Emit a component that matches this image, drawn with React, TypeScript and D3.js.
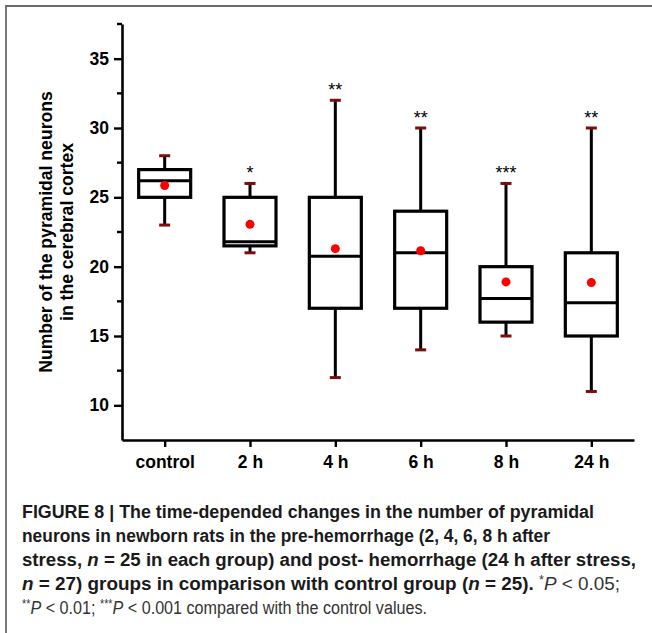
import React, { useEffect, useRef } from 'react';
import * as d3 from 'd3';

// data
const groups = ['control', '2 h', '4 h', '6 h', '8 h', '24 h'];
const whiskerLow = [23, 21, 12, 14, 15, 11];
const q1 = [25, 21.5, 17, 17, 16, 15];
const medians = [26.2, 21.8, 20.75, 21, 17.7, 17.4];
const q3 = [27, 25, 25, 24, 20, 21];
const whiskerHigh = [28, 26, 32, 30, 26, 30];
const means = [25.85, 23.05, 21.3, 21.15, 18.9, 18.85];
const stars = ['', '*', '**', '**', '***', '**'];
const majorTicks = [10, 15, 20, 25, 30, 35];
const minorTicks = [12.5, 17.5, 22.5, 27.5, 32.5, 37.5];

const W = 652;
const H = 633;
const FONT = "'Liberation Sans', Arial, Helvetica, sans-serif";

export default function App() {
  const ref = useRef<SVGSVGElement>(null);

  useEffect(() => {
    const svg = d3.select(ref.current);
    svg.selectAll('*').remove();

    const left = 122;
    const right = 634;
    const top = 24;
    const bottom = 440;

    const x = d3.scalePoint<string>().domain(groups).range([left, right]).padding(0.5);
    const y = d3.scaleLinear().domain([7.5, 37.5]).range([bottom, top]);

    // frame (top + left only)
    svg.append('path')
      .attr('d', `M6,${H} L6,6 L${W},6`)
      .attr('fill', 'none')
      .attr('stroke', '#6a6a6a')
      .attr('stroke-width', 1.8);

    // y axis
    const yAxis = svg.append('g')
      .attr('transform', `translate(${left},0)`)
      .call(d3.axisLeft(y).tickValues(majorTicks).tickSize(8).tickSizeOuter(0).tickPadding(5));
    yAxis.select('.domain').attr('stroke-width', 2.6);
    yAxis.selectAll('.tick line').attr('stroke-width', 2.4);
    yAxis.selectAll('text')
      .attr('font-family', FONT)
      .attr('font-weight', 'bold')
      .attr('font-size', 17.5)
      .attr('fill', '#000');

    svg.append('g')
      .attr('transform', `translate(${left},0)`)
      .selectAll('line')
      .data(minorTicks)
      .enter()
      .append('line')
      .attr('x1', -5)
      .attr('x2', 0)
      .attr('y1', (d) => y(d))
      .attr('y2', (d) => y(d))
      .attr('stroke', '#000')
      .attr('stroke-width', 2.4);

    // x axis
    const xAxis = svg.append('g')
      .attr('transform', `translate(0,${bottom})`)
      .call(d3.axisBottom(x).tickSize(7).tickSizeOuter(0).tickPadding(9));
    xAxis.select('.domain').attr('stroke-width', 2.6);
    xAxis.selectAll('.tick line').attr('stroke-width', 2.4);
    xAxis.selectAll('text')
      .attr('font-family', FONT)
      .attr('font-weight', 'bold')
      .attr('font-size', 17.5)
      .attr('fill', '#000');

    // y axis title
    const yTitle = svg.append('text')
      .attr('transform', `translate(46,${(top + bottom) / 2}) rotate(-90)`)
      .attr('text-anchor', 'middle')
      .attr('font-family', FONT)
      .attr('font-weight', 'bold')
      .attr('font-size', 17.6)
      .attr('fill', '#000');
    yTitle.append('tspan').attr('x', 0).attr('dy', '0.35em').text('Number of the pyramidal neurons');
    yTitle.append('tspan').attr('x', 0).attr('dy', 21).text('in the cerebral cortex');

    const boxW = 52;
    const capW = 11;
    const idx = d3.range(groups.length);
    const g = svg.append('g');

    // whiskers
    g.selectAll('line.whisk')
      .data(idx)
      .enter()
      .append('line')
      .attr('class', 'whisk')
      .attr('x1', (i) => x(groups[i])!)
      .attr('x2', (i) => x(groups[i])!)
      .attr('y1', (i) => y(whiskerLow[i]))
      .attr('y2', (i) => y(whiskerHigh[i]))
      .attr('stroke', '#000')
      .attr('stroke-width', 3);

    // caps
    ['low', 'high'].forEach((k) => {
      g.selectAll(`line.cap-${k}`)
        .data(idx)
        .enter()
        .append('line')
        .attr('x1', (i) => x(groups[i])! - capW / 2)
        .attr('x2', (i) => x(groups[i])! + capW / 2)
        .attr('y1', (i) => y(k === 'low' ? whiskerLow[i] : whiskerHigh[i]))
        .attr('y2', (i) => y(k === 'low' ? whiskerLow[i] : whiskerHigh[i]))
        .attr('stroke', '#7d0d0d')
        .attr('stroke-width', 3);
    });

    // boxes
    g.selectAll('rect')
      .data(idx)
      .enter()
      .append('rect')
      .attr('x', (i) => x(groups[i])! - boxW / 2)
      .attr('y', (i) => y(q3[i]))
      .attr('width', boxW)
      .attr('height', (i) => y(q1[i]) - y(q3[i]))
      .attr('fill', '#fff')
      .attr('stroke', '#000')
      .attr('stroke-width', 3.2);

    // medians
    g.selectAll('line.med')
      .data(idx)
      .enter()
      .append('line')
      .attr('class', 'med')
      .attr('x1', (i) => x(groups[i])! - boxW / 2)
      .attr('x2', (i) => x(groups[i])! + boxW / 2)
      .attr('y1', (i) => y(medians[i]))
      .attr('y2', (i) => y(medians[i]))
      .attr('stroke', '#000')
      .attr('stroke-width', 3);

    // means
    g.selectAll('circle')
      .data(idx)
      .enter()
      .append('circle')
      .attr('cx', (i) => x(groups[i])!)
      .attr('cy', (i) => y(means[i]))
      .attr('r', 4.5)
      .attr('fill', '#ff0000');

    // significance stars
    g.selectAll('text.star')
      .data(idx)
      .enter()
      .append('text')
      .attr('class', 'star')
      .attr('x', (i) => x(groups[i])!)
      .attr('y', (i) => y(whiskerHigh[i]) - 4)
      .attr('text-anchor', 'middle')
      .attr('font-family', FONT)
      .attr('font-size', 18)
      .attr('fill', '#000')
      .text((i) => stars[i]);

    // caption
    const cap = svg.append('g')
      .attr('font-family', FONT)
      .attr('font-size', 18)
      .attr('fill', '#1a1a1a');

    const line = (yy: number, len: number) =>
      cap.append('text')
        .attr('x', 22)
        .attr('y', yy)
        .attr('textLength', len)
        .attr('lengthAdjust', 'spacingAndGlyphs');

    const l1 = line(518, 572);
    l1.append('tspan').attr('font-weight', 'bold').text('FIGURE 8 | The time-depended changes in the number of pyramidal');

    const l2 = line(542, 528);
    l2.append('tspan').attr('font-weight', 'bold').text('neurons in newborn rats in the pre-hemorrhage (2, 4, 6, 8 h after');

    const l3 = line(566, 614);
    l3.append('tspan').attr('font-weight', 'bold').text('stress, ');
    l3.append('tspan').attr('font-weight', 'bold').attr('font-style', 'italic').text('n');
    l3.append('tspan').attr('font-weight', 'bold').text(' = 25 in each group) and post- hemorrhage (24 h after stress,');

    const l4 = line(590, 598);
    l4.append('tspan').attr('font-weight', 'bold').attr('font-style', 'italic').text('n');
    l4.append('tspan').attr('font-weight', 'bold').text(' = 27) groups in comparison with control group (');
    l4.append('tspan').attr('font-weight', 'bold').attr('font-style', 'italic').text('n');
    l4.append('tspan').attr('font-weight', 'bold').text(' = 25). ');
    l4.append('tspan').attr('font-size', 12).attr('dy', -6).attr('fill', '#333').text('*');
    l4.append('tspan').attr('font-style', 'italic').attr('dy', 6).attr('fill', '#333').text('P');
    l4.append('tspan').attr('fill', '#333').text(' < 0.05;');

    const l5 = line(614, 405);
    l5.append('tspan').attr('font-size', 12).attr('dy', -6).attr('fill', '#333').text('**');
    l5.append('tspan').attr('font-style', 'italic').attr('dy', 6).attr('fill', '#333').text('P');
    l5.append('tspan').attr('fill', '#333').text(' < 0.01; ');
    l5.append('tspan').attr('font-size', 12).attr('dy', -6).attr('fill', '#333').text('***');
    l5.append('tspan').attr('font-style', 'italic').attr('dy', 6).attr('fill', '#333').text('P');
    l5.append('tspan').attr('fill', '#333').text(' < 0.001 compared with the control values.');
  }, []);

  return (
    <svg
      ref={ref}
      width={W}
      height={H}
      style={{ position: 'absolute', left: 0, top: 0, background: '#fff' }}
    />
  );
}
